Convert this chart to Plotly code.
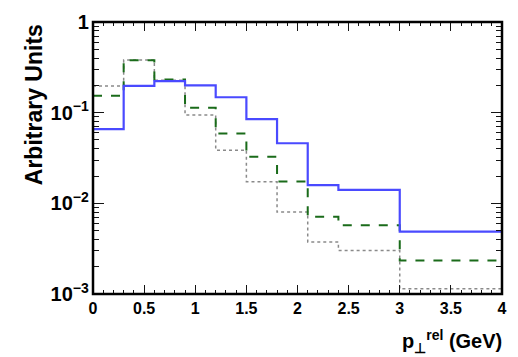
import plotly.graph_objects as go

edges = [0.0, 0.3, 0.6, 0.9, 1.2, 1.5, 1.8, 2.1, 2.4, 3.0, 4.0]
blue_vals = [0.066, 0.197, 0.223, 0.200, 0.148, 0.085, 0.046, 0.0159, 0.0141, 0.00488]
green_vals = [0.154, 0.378, 0.232, 0.113, 0.0588, 0.0327, 0.0174, 0.0071, 0.00574, 0.00234]
grey_vals = [0.197, 0.380, 0.228, 0.0945, 0.0385, 0.0173, 0.0080, 0.00375, 0.00301, 0.00114]

fig = go.Figure()

def add_hist(vals, color, dash, width):
    fig.add_trace(go.Scatter(
        x=edges, y=vals + [vals[-1]], mode="lines", line_shape="hv",
        line=dict(color=color, dash=dash, width=width), showlegend=False))

add_hist(grey_vals, "#8a8a8a", "dot", 1.5)
add_hist(green_vals, "#1a6b1a", "dash", 2)
add_hist(blue_vals, "#4a4aff", "solid", 2.2)

fam = "Liberation Sans, Arial, sans-serif"
tickfont = dict(family=fam, size=16, color="black", weight="bold")

fig.update_layout(
    width=518, height=357,
    margin=dict(l=93, r=11, t=12, b=63),
    plot_bgcolor="white",
    xaxis=dict(
        range=[0, 4], dtick=0.5, tickfont=tickfont,
        ticks="inside", ticklen=9, tickcolor="rgb(20,20,20)",
        showline=True, linecolor="black", mirror="ticks",
        gridcolor="white",
        minor=dict(dtick=0.1, ticks="inside", ticklen=4, tickcolor="rgb(20,20,20)"),
    ),
    yaxis=dict(
        type="log", range=[-3, 0], dtick=1, exponentformat="power", tickfont=tickfont,
        ticks="inside", ticklen=11, tickcolor="rgb(20,20,20)",
        showline=True, linecolor="black", mirror="ticks",
        gridcolor="white",
        minor=dict(dtick="D1", ticks="inside", ticklen=6, tickcolor="rgb(20,20,20)"),
    ),
    shapes=[dict(type="rect", xref="paper", yref="paper", x0=0, y0=0, x1=1, y1=1,
                 line=dict(color="black", width=2.5), fillcolor="rgba(0,0,0,0)")],
    annotations=[
        dict(text="<b>Arbitrary Units</b>", textangle=-90, xref="paper", yref="paper",
             x=-0.145, y=1.0, xanchor="center", yanchor="top", showarrow=False,
             font=dict(family=fam, size=23, color="black")),
        dict(text="<b>p<sub>⊥</sub><sup>rel</sup> (GeV)</b>", xref="paper", yref="paper",
             x=1.005, y=-0.115, xanchor="right", yanchor="top", showarrow=False,
             font=dict(family=fam, size=20, color="black")),
    ],
)

fig.write_html("out.html")
